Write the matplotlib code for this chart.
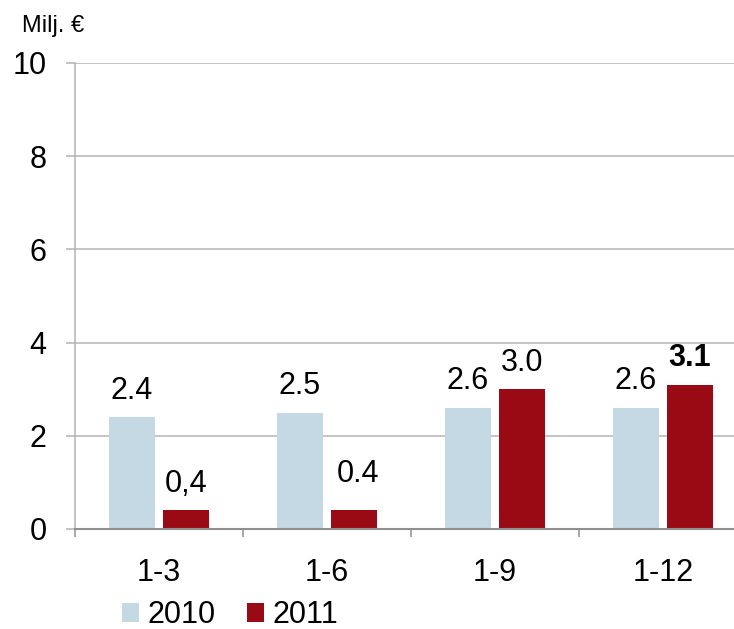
import matplotlib
matplotlib.use("Agg")
import matplotlib.pyplot as plt
from matplotlib.patches import Patch
import numpy as np

plt.rcParams['font.family'] = ['Liberation Sans', 'DejaVu Sans']

categories = ["1-3", "1-6", "1-9", "1-12"]
series_names = ["2010", "2011"]
values_2010 = [2.4, 2.5, 2.6, 2.6]
values_2011 = [0.4, 0.4, 3.0, 3.1]
labels_2010 = ["2.4", "2.5", "2.6", "2.6"]
labels_2011 = ["0,4", "0.4", "3.0", "3.1"]
bold_2011 = [False, False, False, True]
y_ticks = [0, 2, 4, 6, 8, 10]

# label offsets in points (dx, dy) from bar top centre
offs_2010 = [(0, 13.3)] * 4
offs_2011 = [(0, 13.3), (3, 20.5), (0, 13.3), (0, 13.3)]

c2010 = "#c5d9e4"
c2011 = "#9a0a15"
grid_c = "#b4b4b4"
axis_c = "#8f8f8f"

W, H = 734, 629
fig = plt.figure(figsize=(W / 100, H / 100), dpi=100)
ax = fig.add_axes([75 / W, 100 / H, (W - 75) / W, 466 / H])

x = np.arange(len(categories))
bw = 46 / 168
off = 27 / 168
b1 = ax.bar(x - off, values_2010, bw, color=c2010, zorder=3)
b2 = ax.bar(x + off, values_2011, bw, color=c2011, zorder=3)

for rect, lab, o in zip(b1, labels_2010, offs_2010):
    ax.annotate(lab, (rect.get_x() + rect.get_width() / 2, rect.get_height()),
                xytext=o, textcoords="offset points", ha="center",
                va="baseline", fontsize=22, color="black")
for rect, lab, bold, o in zip(b2, labels_2011, bold_2011, offs_2011):
    ax.annotate(lab, (rect.get_x() + rect.get_width() / 2, rect.get_height()),
                xytext=o, textcoords="offset points", ha="center",
                va="baseline", fontsize=22, color="black",
                fontweight="bold" if bold else "normal")

ax.set_yticks(y_ticks)
ax.set_yticklabels([str(t) for t in y_ticks], fontsize=22)
ax.tick_params(axis="y", direction="out", length=6.5, width=1.1, color=grid_c, pad=14)

ax.set_xticks(np.arange(-0.5, len(categories), 1.0))
ax.set_xticklabels([])
ax.tick_params(axis="x", which="major", direction="out", length=6, width=1.1, color=axis_c)
ax.set_xticks(x, minor=True)
ax.set_xticklabels(categories, minor=True, fontsize=22)
ax.tick_params(axis="x", which="minor", length=0, pad=21)

ax.set_xlim(-0.5, -0.5 + (W - 75) / 168)
ax.set_ylim(0, 10)

ax.yaxis.grid(True, color=grid_c, linewidth=1.1, zorder=0)
ax.set_axisbelow(True)
for s in ["top", "right"]:
    ax.spines[s].set_visible(False)
ax.spines["left"].set_color(grid_c)
ax.spines["left"].set_linewidth(1.1)
ax.spines["bottom"].set_color(axis_c)
ax.spines["bottom"].set_linewidth(1.5)
ax.spines["bottom"].set_zorder(4)

fig.text(22 / W, 1 - 32 / H, "Milj. €", fontsize=17, ha="left", va="baseline")

handles = [Patch(facecolor=c2010), Patch(facecolor=c2011)]
fig.legend(handles, series_names, loc="center", bbox_to_anchor=(230 / W, 1 - 615 / H),
           ncol=2, frameon=False, fontsize=22, handlelength=0.56, handleheight=0.56,
           handletextpad=0.26, columnspacing=1.05, borderpad=0, borderaxespad=0)

fig.savefig("out.png", dpi=100)
